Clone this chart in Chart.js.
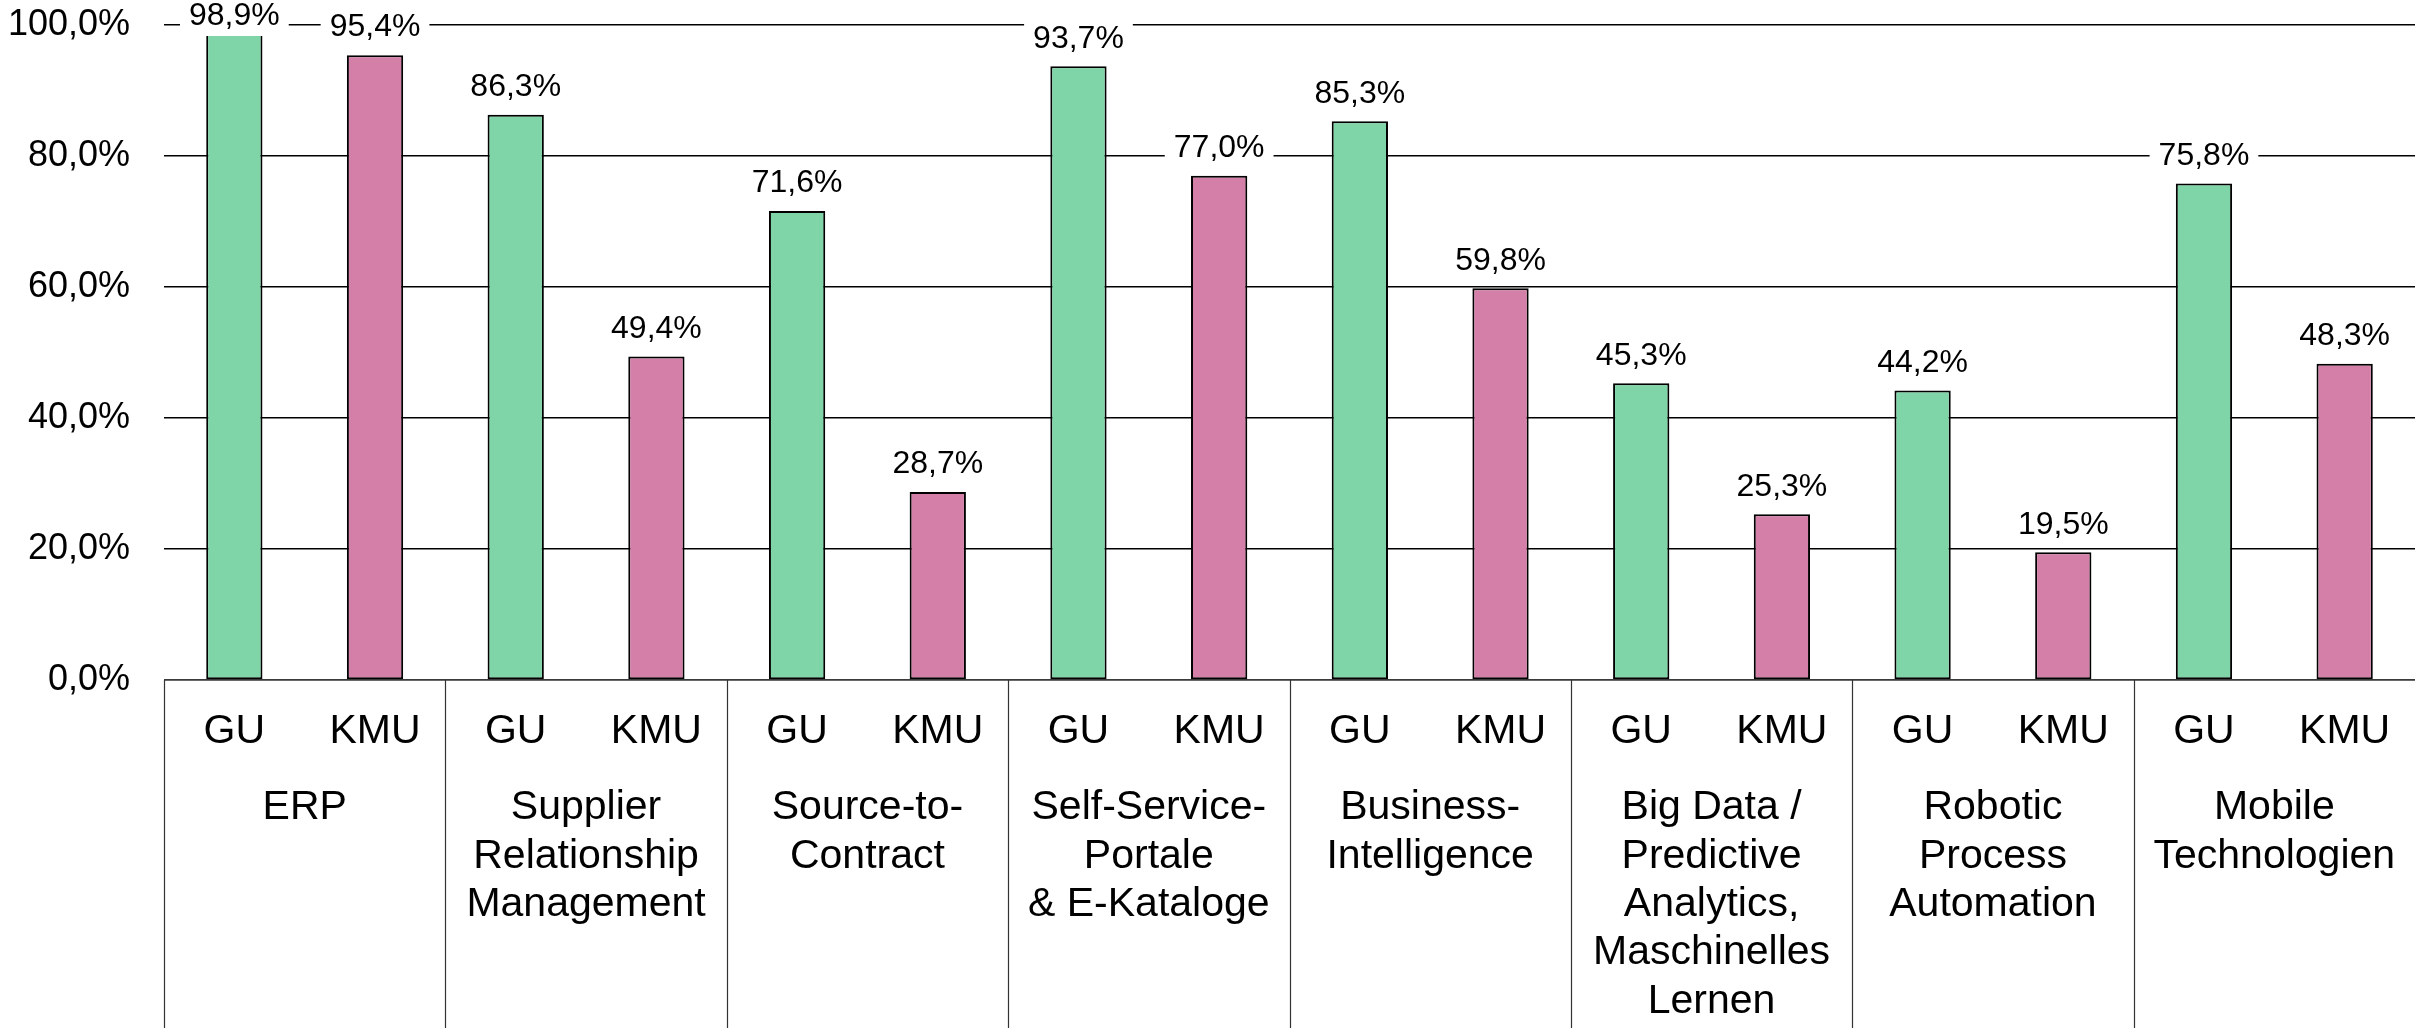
<!DOCTYPE html>
<html>
<head>
<meta charset="utf-8">
<script src="https://cdn.jsdelivr.net/npm/chart.js@4/dist/chart.umd.min.js"></script>
<style>
  html, body { margin: 0; padding: 0; background: #fff; }
  #wrap { width: 2415px; height: 1028px; }
</style>
</head>
<body>
<div id="wrap"><canvas id="chart" width="2415" height="1028"></canvas></div>
<script>
// Daten
const groupLabels = [
    ["ERP"],
    ["Supplier", "Relationship", "Management"],
    ["Source-to-", "Contract"],
    ["Self-Service-", "Portale", "& E-Kataloge"],
    ["Business-", "Intelligence"],
    ["Big Data /", "Predictive", "Analytics,", "Maschinelles", "Lernen"],
    ["Robotic", "Process", "Automation"],
    ["Mobile", "Technologien"],
];
const sizeLabels = ["GU", "KMU"];
const guValues  = [98.9, 86.3, 71.6, 93.7, 85.3, 45.3, 44.2, 75.8];
const kmuValues = [95.4, 49.4, 28.7, 77.0, 59.8, 25.3, 19.5, 48.3];
const yTicks = [0, 20, 40, 60, 80, 100];

const GREEN = "#7FD4A8";
const PINK = "#D47FA8";
const FONT = "'Liberation Sans', Arial, sans-serif";
const PLOT_TOP = 25;

const labels = [];
const values = [];
const colors = [];
groupLabels.forEach((g, i) => {
    labels.push(sizeLabels[0], sizeLabels[1]);
    values.push(guValues[i], kmuValues[i]);
    colors.push(GREEN, PINK);
});

const fmt = (v) => v.toFixed(1).replace(".", ",") + "%";

// Werte über den Balken mit weißem Hintergrund
const valueLabels = {
    id: "valueLabels",
    afterDatasetsDraw(chart) {
        const ctx = chart.ctx;
        const meta = chart.getDatasetMeta(0);
        ctx.save();
        ctx.font = "32px " + FONT;
        ctx.textAlign = "center";
        ctx.textBaseline = "middle";
        meta.data.forEach((bar, i) => {
            const text = fmt(values[i]);
            const y = Math.max(bar.y - 28.5, 15);
            const w = ctx.measureText(text).width + 18;
            ctx.fillStyle = "#fff";
            ctx.fillRect(bar.x - w / 2, y - 21, w, 42);
            ctx.fillStyle = "#000";
            ctx.fillText(text, bar.x, y + 1);
        });
        ctx.restore();
    },
};

// mehrstufige Kategorienachse
const categoryAxis = {
    id: "categoryAxis",
    afterDraw(chart) {
        const ctx = chart.ctx;
        const x = chart.scales.x;
        const area = chart.chartArea;
        const bottom = chart.height;
        const step = (area.right - area.left) / labels.length;
        ctx.save();
        ctx.strokeStyle = "#333";
        ctx.lineWidth = 1.2;
        ctx.beginPath();
        ctx.moveTo(area.left, area.bottom);
        ctx.lineTo(area.right, area.bottom);
        for (let g = 0; g < groupLabels.length; g++) {
            const lx = Math.round(x.getPixelForValue(g * 2) - step / 2) + 0.5;
            ctx.moveTo(lx, area.bottom);
            ctx.lineTo(lx, bottom);
        }
        ctx.stroke();

        ctx.fillStyle = "#000";
        ctx.font = "41px " + FONT;
        ctx.textAlign = "center";
        ctx.textBaseline = "middle";
        labels.forEach((l, i) => {
            ctx.fillText(l, x.getPixelForValue(i), area.bottom + 52);
        });
        groupLabels.forEach((lines, g) => {
            const cx = (x.getPixelForValue(g * 2) + x.getPixelForValue(g * 2 + 1)) / 2;
            lines.forEach((line, k) => {
                ctx.fillText(line, cx, area.bottom + 128 + k * 48.3);
            });
        });
        ctx.restore();
    },
};

// Plotbereich oben festlegen (Tick-Beschriftung soll ihn nicht verschieben)
const fixTop = {
    id: "fixTop",
    afterLayout(chart) {
        const area = chart.chartArea;
        const y = chart.scales.y;
        if (area.top !== PLOT_TOP) {
            area.top = PLOT_TOP;
            area.height = area.bottom - area.top;
            y.top = PLOT_TOP;
            y.height = y.bottom - y.top;
            y.configure();
        }
    },
};

new Chart(document.getElementById("chart"), {
    type: "bar",
    data: {
        labels,
        datasets: [{
            data: values,
            backgroundColor: colors,
            borderColor: "#000",
            borderWidth: 2,
            borderSkipped: false,
            categoryPercentage: 1.0,
            barPercentage: 0.4,
        }],
    },
    options: {
        responsive: false,
        animation: false,
        devicePixelRatio: 1,
        layout: { padding: { top: 25, right: 0, bottom: 348, left: 0 } },
        plugins: {
            legend: { display: false },
            tooltip: { enabled: false },
        },
        scales: {
            x: { display: false },
            y: {
                min: 0,
                max: 100,
                afterBuildTicks: (scale) => { scale.ticks = yTicks.map(v => ({ value: v })); },
                afterFit: (scale) => { scale.width = 164; },
                border: { display: false },
                grid: {
                    color: (c) => c.tick && c.tick.value === 0 ? "#444" : "#000",
                    lineWidth: 1.5,
                    drawTicks: false,
                },
                ticks: {
                    padding: 34,
                    color: "#000",
                    font: { family: FONT, size: 36 },
                    callback: (v) => fmt(v),
                },
            },
        },
    },
    plugins: [valueLabels, categoryAxis, fixTop],
});
</script>
</body>
</html>
